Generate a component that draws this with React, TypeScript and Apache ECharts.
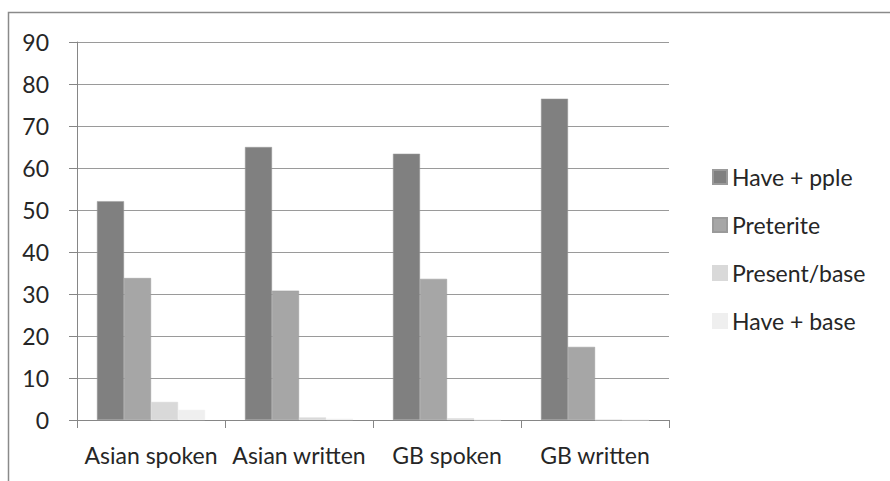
import React, { useEffect, useRef } from "react";
import * as echarts from "echarts";

const categories = ["Asian spoken", "Asian written", "GB spoken", "GB written"];
const seriesNames = ["Have + pple", "Preterite", "Present/base", "Have + base"];
const havePple = [52.1, 65.0, 63.4, 76.5];
const preterite = [33.8, 30.8, 33.6, 17.4];
const presentBase = [4.3, 0.6, 0.4, 0];
const haveBase = [2.4, 0.3, 0, 0];
const seriesColors = ["#808080", "#a6a6a6", "#d9d9d9", "#efefef"];
const yTicks = { min: 0, max: 90, interval: 10 };

const FONT = "Lato";

export default function App() {
  const ref = useRef<HTMLDivElement>(null);
  useEffect(() => {
    if (!ref.current) return;
    const chart = echarts.init(ref.current, null, { renderer: "svg" });
    const values = [havePple, preterite, presentBase, haveBase];
    chart.setOption({
      animation: false,
      backgroundColor: "#ffffff",
      textStyle: { fontFamily: FONT },
      graphic: [
        {
          type: "rect",
          shape: { x: 8.5, y: 12.5, width: 1000, height: 1000 },
          style: { fill: "none", stroke: "#8a8a8a", lineWidth: 1.5 },
          silent: true,
        },
      ],
      grid: { left: 77, right: 221, top: 42, bottom: 61, containLabel: false },
      legend: {
        orient: "vertical",
        left: 707,
        top: 160,
        itemWidth: 14,
        itemHeight: 14,
        itemGap: 24,
        icon: "rect",
        data: seriesNames,
        textStyle: { fontFamily: FONT, fontSize: 23, color: "#262626", lineHeight: 24 },
      },
      xAxis: {
        type: "category",
        data: categories,
        axisLine: { lineStyle: { color: "#868686", width: 1 } },
        axisTick: { show: true, length: 8, lineStyle: { color: "#868686" } },
        axisLabel: { fontFamily: FONT, fontSize: 23, color: "#262626", margin: 23, interval: 0 },
      },
      yAxis: {
        type: "value",
        min: yTicks.min,
        max: yTicks.max,
        interval: yTicks.interval,
        axisLine: { show: true, lineStyle: { color: "#868686", width: 1 } },
        axisTick: { show: true, length: 8, lineStyle: { color: "#868686" } },
        axisLabel: { fontFamily: FONT, fontSize: 23, color: "#262626", margin: 28 },
        splitLine: { show: true, lineStyle: { color: "#9a9a9a", width: 1 } },
      },
      series: seriesNames.map((name, i) => ({
        name,
        type: "bar",
        data: values[i],
        barGap: "0%",
        barCategoryGap: "27%",
        itemStyle: { color: seriesColors[i], borderColor: i < 2 ? "#9a9a9a" : seriesColors[i], borderWidth: 0.5 },
      })),
    });
    return () => chart.dispose();
  }, []);
  return (
    <div
      ref={ref}
      style={{ position: "fixed", left: 0, top: 0, width: 890, height: 481 }}
    />
  );
}
